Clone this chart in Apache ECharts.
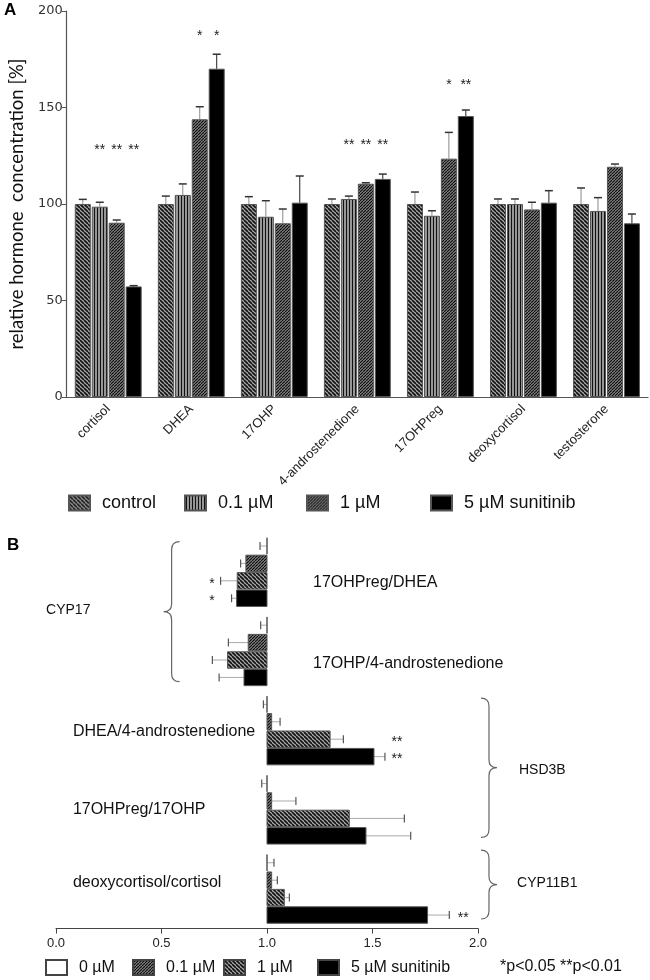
<!DOCTYPE html>
<html>
<head>
<meta charset="utf-8">
<script src="https://cdn.jsdelivr.net/npm/echarts@6/dist/echarts.min.js"></script>
<style>
  html, body { margin: 0; padding: 0; background: #fff; }
  #chart { width: 650px; height: 980px; }
</style>
</head>
<body>
<div id="chart"></div>
<script>
// Panel A: hormone levels relative to control
const categoriesA = ["cortisol", "DHEA", "17OHP", "4-androstenedione", "17OHPreg", "deoxycortisol", "testosterone"]
const treatmentsA = ["control", "0.1 µM", "1 µM", "5 µM sunitinib"]
const controlA = [100, 100, 100, 100, 100, 100, 100]
const controlSdA = [2.4, 4.1, 3.8, 2.6, 6.2, 2.6, 8.3]
const low01A = [98.6, 104.7, 93.4, 102.6, 93.9, 100, 96.4]
const low01SdA = [2.3, 5.7, 8.3, 1.5, 2.6, 2.6, 6.9]
const mid1A = [90.3, 143.9, 90, 110.5, 123.5, 97.2, 119.3]
const mid1SdA = [1.4, 6.5, 7.4, 0.5, 13.6, 3.7, 1.4]
const high5A = [57.3, 170.1, 100.7, 113, 145.6, 100.7, 90]
const high5SdA = [0.4, 7.5, 13.8, 2.5, 3.1, 6.2, 4.8]
const yTicksA = [0, 50, 100, 150, 200]
// [category index, treatment index, mark]
const starsA = [[0, 1, "**"], [0, 2, "**"], [0, 3, "**"], [1, 2, "*"], [1, 3, "*"],
  [3, 1, "**"], [3, 2, "**"], [3, 3, "**"], [4, 2, "*"], [4, 3, "**"]]

// Panel B: product/substrate ratios
const ratiosB = ["17OHPreg/DHEA", "17OHP/4-androstenedione", "DHEA/4-androstenedione", "17OHPreg/17OHP", "deoxycortisol/cortisol"]
const treatmentsB = ["0 µM", "0.1 µM", "1 µM", "5 µM sunitinib"]
const zeroB = [1, 1, 1, 1, 1]
const zeroErrB = [-0.033, -0.03, -0.017, -0.025, 0.033]
const low01B = [0.900, 0.911, 1.022, 1.022, 1.022]
const low01ErrB = [-0.025, -0.094, 0.04, 0.115, 0.027]
const mid1B = [0.859, 0.813, 1.299, 1.390, 1.082]
const mid1ErrB = [-0.079, -0.072, 0.063, 0.261, 0.024]
const high5B = [0.856, 0.891, 1.507, 1.469, 1.761]
const high5ErrB = [-0.024, -0.118, 0.052, 0.212, 0.103]
const xTicksB = ["0.0", "0.5", "1.0", "1.5", "2.0"]
// [ratio index, treatment index, mark]
const starsB = [[0, 2, "*"], [0, 3, "*"], [2, 2, "**"], [2, 3, "**"], [4, 3, "**"]]
const enzymesB = ["CYP17", "HSD3B", "CYP11B1"]

// annotation anchors (data units of each panel)
const starHeightA = { 0: 128, 1: 187, 3: 130.5, 4: 161.6 }
const starXB = { 0: 0.739, 2: 1.616, 4: 1.93 }
const ratioLabelPos = [[1.218, 0.135], [1.218, 1.15], [0.08, 2.02], [0.08, 3.0], [0.08, 3.92]]
const braces = [[0.548, -0.384, 1.384, -1], [2.052, 1.59, 3.35, 1], [2.052, 3.51, 4.38, 1]]
const enzymeLabelPos = [[-0.047, 0.48, "left"], [2.194, 2.5, "left"], [2.185, 3.93, "left"]]

const FONT = '"Liberation Sans", Arial, sans-serif'
const BAR_A = 16
const GAP_A = 0.96

function hatch(kind, bg, fg, size, lw) {
  const c = document.createElement("canvas")
  c.width = size
  c.height = size
  const g = c.getContext("2d")
  g.fillStyle = bg
  g.fillRect(0, 0, size, size)
  g.strokeStyle = fg
  g.lineWidth = lw
  g.beginPath()
  if (kind === "vertical") {
    g.moveTo(size / 2, 0)
    g.lineTo(size / 2, size)
  } else {
    for (let k = -size; k <= size; k += size) {
      if (kind === "back") {
        g.moveTo(k, 0)
        g.lineTo(k + size, size)
      } else {
        g.moveTo(k + size, 0)
        g.lineTo(k, size)
      }
    }
  }
  g.stroke()
  return { image: c, repeat: "repeat" }
}

const fillsA = [
  hatch("back", "#a8a8a8", "#111", 4, 1.6),
  hatch("vertical", "#d0d0d0", "#111", 3, 1.6),
  hatch("forward", "#9c9c9c", "#111", 3, 1.3),
  "#000",
]
const fillsB = [
  "#fff",
  hatch("forward", "#9c9c9c", "#111", 3, 1.3),
  hatch("back", "#a8a8a8", "#111", 4, 1.6),
  "#000",
]

const valsA = [controlA, low01A, mid1A, high5A]
const sdsA = [controlSdA, low01SdA, mid1SdA, high5SdA]
const valsB = [zeroB, low01B, mid1B, high5B]
const errsB = [zeroErrB, low01ErrB, mid1ErrB, high5ErrB]

const chart = echarts.init(document.getElementById("chart"), null, { renderer: "canvas" })

// bar series for panel A
const seriesA = treatmentsA.map((name, k) => ({
  name: "A:" + name,
  type: "bar",
  xAxisIndex: 0,
  yAxisIndex: 0,
  data: valsA[k],
  barWidth: BAR_A,
  barGap: "6%",
  itemStyle: { color: fillsA[k], borderColor: "#555", borderWidth: 1 },
  emphasis: { disabled: true },
  animation: false,
}))

const errDataA = []
treatmentsA.forEach((t, k) => {
  categoriesA.forEach((c, i) => errDataA.push([i, k, valsA[k][i], sdsA[k][i]]))
})

const errSeriesA = {
  type: "custom",
  xAxisIndex: 0,
  yAxisIndex: 0,
  data: errDataA,
  encode: { x: 0, y: 2 },
  z: 5,
  silent: true,
  animation: false,
  renderItem: (params, api) => {
    const cat = api.value(0), k = api.value(1), v = api.value(2), sd = api.value(3)
    const base = api.coord([cat, v])
    const top = api.coord([cat, v + sd])
    const x = base[0] + (k - 1.5) * (BAR_A + GAP_A)
    return {
      type: "group",
      children: [
        { type: "line", shape: { x1: x, y1: base[1], x2: x, y2: top[1] }, style: { stroke: k === 3 ? "#222" : "#8a8a8a", lineWidth: 1 } },
        { type: "line", shape: { x1: x - 4, y1: top[1], x2: x + 4, y2: top[1] }, style: { stroke: "#333", lineWidth: 1.5 } },
      ],
    }
  },
}

const starSeriesA = {
  type: "custom",
  xAxisIndex: 0,
  yAxisIndex: 0,
  data: starsA.map((s) => [s[0], s[1], starHeightA[s[0]], s[2]]),
  encode: { x: 0, y: 2 },
  silent: true,
  animation: false,
  renderItem: (params, api) => {
    const s = starsA[params.dataIndex]
    const p = api.coord([s[0], starHeightA[s[0]]])
    return {
      type: "text",
      style: {
        text: s[2], x: p[0] + (s[1] - 1.5) * (BAR_A + GAP_A), y: p[1],
        align: "center", verticalAlign: "middle", fontSize: 14, fontFamily: FONT, fill: "#222",
      },
    }
  },
}

// horizontal bars for panel B start at the ratio 1.0
function barBRenderer(k) {
  return (params, api) => {
    const v = api.value(0), g = api.value(1), e = api.value(2)
    const base = api.coord([1, g])
    const end = api.coord([v, g])
    const band = api.size([0, 1])[1]
    const h = band * 0.22
    const y0 = base[1] - 2 * h + k * h
    const yc = y0 + h / 2
    const ex = api.coord([v + e, g])[0]
    return {
      type: "group",
      children: [
        { type: "line", shape: { x1: end[0], y1: yc, x2: ex, y2: yc }, style: { stroke: "#aaa", lineWidth: 1 } },
        { type: "line", shape: { x1: ex, y1: yc - 4, x2: ex, y2: yc + 4 }, style: { stroke: "#555", lineWidth: 1.2 } },
        {
          type: "rect",
          shape: { x: Math.min(base[0], end[0]), y: y0 + 0.5, width: Math.abs(end[0] - base[0]), height: h - 1 },
          style: { fill: fillsB[k], stroke: "#555", lineWidth: 1 },
        },
      ],
    }
  }
}

const seriesB = treatmentsB.map((name, k) => ({
  name: "B:" + name,
  type: "custom",
  xAxisIndex: 1,
  yAxisIndex: 1,
  data: ratiosB.map((r, g) => [valsB[k][g], g, errsB[k][g]]),
  encode: { x: 0, y: 1 },
  itemStyle: { color: fillsB[k], borderColor: "#444", borderWidth: 1 },
  silent: true,
  animation: false,
  renderItem: barBRenderer(k),
}))

const textSeriesB = {
  type: "custom",
  xAxisIndex: 1,
  yAxisIndex: 1,
  data: ratiosB.map((r, g) => [ratioLabelPos[g][0], ratioLabelPos[g][1]]),
  encode: { x: 0, y: 1 },
  clip: false,
  silent: true,
  animation: false,
  renderItem: (params, api) => {
    const p = api.coord([api.value(0), api.value(1)])
    return {
      type: "text",
      style: { text: ratiosB[params.dataIndex], x: p[0], y: p[1], align: "left", verticalAlign: "middle", fontSize: 16, fontFamily: FONT, fill: "#111" },
    }
  },
}

const starSeriesB = {
  type: "custom",
  xAxisIndex: 1,
  yAxisIndex: 1,
  data: starsB.map((s) => [starXB[s[0]], s[0], s[1]]),
  encode: { x: 0, y: 1 },
  clip: false,
  silent: true,
  animation: false,
  renderItem: (params, api) => {
    const s = starsB[params.dataIndex]
    const p = api.coord([starXB[s[0]], s[0]])
    const h = api.size([0, 1])[1] * 0.22
    return {
      type: "text",
      style: {
        text: s[2], x: p[0], y: p[1] - 2 * h + s[1] * h + h / 2 + 3,
        align: "center", verticalAlign: "middle", fontSize: 14, fontFamily: FONT, fill: "#222",
      },
    }
  },
}

const braceSeriesB = {
  type: "custom",
  xAxisIndex: 1,
  yAxisIndex: 1,
  data: braces.map((b) => [b[0], b[1], b[2]]),
  encode: { x: 0, y: [1, 2] },
  clip: false,
  silent: true,
  animation: false,
  renderItem: (params, api) => {
    const b = braces[params.dataIndex]
    const top = api.coord([b[0], b[1]])
    const bot = api.coord([b[0], b[2]])
    const x = top[0], y1 = top[1], y2 = bot[1], ym = (y1 + y2) / 2
    const w = 8 * b[3], r = 8
    const lab = enzymeLabelPos[params.dataIndex]
    const lp = api.coord([lab[0], lab[1]])
    const d = "M" + (x - w) + " " + y1 + " Q" + x + " " + y1 + " " + x + " " + (y1 + r) +
      " L" + x + " " + (ym - r) + " Q" + x + " " + ym + " " + (x + w) + " " + ym +
      " Q" + x + " " + ym + " " + x + " " + (ym + r) + " L" + x + " " + (y2 - r) +
      " Q" + x + " " + y2 + " " + (x - w) + " " + y2
    return {
      type: "group",
      children: [
        { type: "path", shape: { pathData: d }, style: { fill: "none", stroke: "#666", lineWidth: 1.2 } },
        {
          type: "text",
          style: { text: enzymesB[params.dataIndex], x: lp[0], y: lp[1], align: lab[2], verticalAlign: "middle", fontSize: 14, fontFamily: FONT, fill: "#111" },
        },
      ],
    }
  },
}

// one legend box per entry so the spacing can follow the figure
const legendLeftA = [68, 184, 306, 430]
const legendLeftB = [45, 132, 223, 317]
const legends = []
treatmentsA.forEach((t, k) => legends.push({
  data: ["A:" + t], left: legendLeftA[k], top: 494, padding: 0, icon: "rect",
  itemWidth: 21, itemHeight: 15, selectedMode: false,
  formatter: (n) => n.slice(2),
  textStyle: { fontSize: 18, fontFamily: FONT, color: "#111", padding: [0, 0, 0, 7] },
}))
treatmentsB.forEach((t, k) => legends.push({
  data: ["B:" + t], left: legendLeftB[k], top: 959, padding: 0, icon: "rect",
  itemWidth: 21, itemHeight: 15, selectedMode: false,
  formatter: (n) => n.slice(2),
  textStyle: { fontSize: 16, fontFamily: FONT, color: "#111", padding: [0, 0, 0, 7] },
}))

const option = {
  backgroundColor: "#fff",
  animation: false,
  legend: legends,
  grid: [
    { left: 66, top: 11, width: 582, height: 386 },
    { left: 56, top: 532.5, width: 422, height: 396 },
  ],
  xAxis: [
    {
      type: "category",
      gridIndex: 0,
      data: categoriesA,
      axisLine: { lineStyle: { color: "#555", width: 1.2 } },
      axisTick: { show: false },
      axisLabel: { rotate: 45, interval: 0, fontSize: 13, fontFamily: FONT, color: "#222", margin: 10 },
    },
    {
      type: "value",
      gridIndex: 1,
      min: 0,
      max: 2,
      interval: 0.5,
      splitLine: { show: false },
      axisLine: { show: true, onZero: false, lineStyle: { color: "#444", width: 1.2 } },
      axisTick: { show: true, length: 5, lineStyle: { color: "#444" } },
      axisLabel: { fontSize: 13, fontFamily: FONT, color: "#222", margin: 8, formatter: (v) => xTicksB[Math.round(v / 0.5)] },
    },
  ],
  yAxis: [
    {
      type: "value",
      gridIndex: 0,
      min: yTicksA[0],
      max: yTicksA[yTicksA.length - 1],
      interval: 50,
      splitLine: { show: false },
      axisLine: { show: true, lineStyle: { color: "#555", width: 1.2 } },
      axisTick: { show: true, length: 5, lineStyle: { color: "#555" } },
      axisLabel: { fontSize: 13, fontFamily: '"DejaVu Sans", sans-serif', color: "#333", margin: 4 },
      name: "relative hormone  concentration [%]",
      nameLocation: "middle",
      nameGap: 33,
      nameTextStyle: { fontSize: 18.5, fontFamily: "Lato, sans-serif", color: "#111" },
    },
    { type: "value", gridIndex: 1, min: -0.5, max: 4.5, inverse: true, show: false },
  ],
  graphic: [
    { type: "text", left: 4, top: 2, style: { text: "A", fontSize: 17, fontWeight: "bold", fontFamily: FONT, fill: "#000" } },
    { type: "text", left: 7, top: 537, style: { text: "B", fontSize: 17, fontWeight: "bold", fontFamily: FONT, fill: "#000" } },
    { type: "text", left: 500, top: 959, style: { text: "*p<0.05 **p<0.01", fontSize: 16, fontFamily: FONT, fill: "#111" } },
  ],
  series: [...seriesA, errSeriesA, starSeriesA, ...seriesB, textSeriesB, starSeriesB, braceSeriesB],
}

chart.setOption(option)
window.addEventListener("resize", () => chart.resize())
</script>
</body>
</html>
